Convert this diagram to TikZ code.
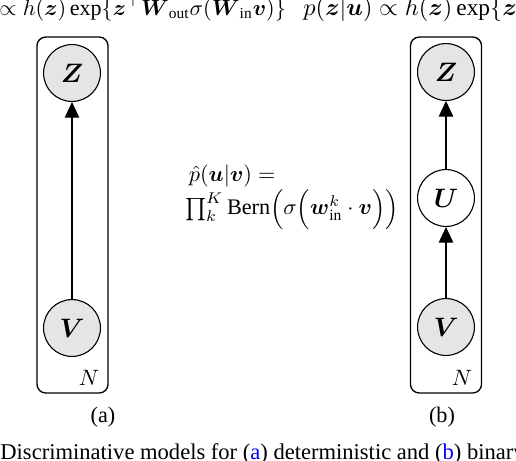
\documentclass[tikz,border=0pt]{standalone}
\usepackage{amsmath,amssymb}
\usepackage{fontspec}
\setmainfont{Liberation Serif}
\usetikzlibrary{arrows.meta, positioning}

\begin{document}
\begin{tikzpicture}[x=0.45pt, y=-0.45pt, line join=round, line cap=round]
   % Styles
   \tikzset{
    obs/.style={circle, draw, fill=gray!20, minimum size=25.6pt, inner sep=0pt, line width=0.5pt, font=\fontsize{11.5}{13}\selectfont},
    latent/.style={circle, draw, fill=white, minimum size=25.6pt, inner sep=0pt, line width=0.5pt, font=\fontsize{11.5}{13}\selectfont},
    plate/.style={draw, rounded corners=4pt, line width=0.6pt, minimum width=32pt, minimum height=160.2pt},
    edge/.style={-{Triangle[length=7pt, width=6.5pt]}, line width=0.5pt},
    eqtop/.style={inner sep=0pt, font=\fontsize{10.5}{12}\selectfont}
   }
  \useasboundingbox (0,0) rectangle (516,460);
  \clip (0,0) rectangle (516,460);
  % Equations cut at the top
  \node[eqtop, anchor=base west, font=\fontsize{9.9}{12}\selectfont] (eqa) at (-1,15)
    {$\propto h(\boldsymbol z)\exp\{\boldsymbol z^\top \boldsymbol W_{\mathrm{out}}\sigma(\boldsymbol W_{\mathrm{in}}\boldsymbol v)\}$};
  \node[eqtop, anchor=base west] (eqb) at (303,15)
    {$p(\boldsymbol z|\boldsymbol u)\propto h(\boldsymbol z)\exp\{\boldsymbol z^\top \boldsymbol W_{\mathrm{out}}\boldsymbol u\}$};
  % Plates
  \node[plate] (platea) at (72.5,215) {};
  \node[plate] (plateb) at (446,215) {};
  \node[anchor=base] (na) at (89,385) {$N$};
  \node[anchor=base] (nb) at (462,385) {$N$};
  % Nodes (a)
  \node[obs] (za) at (72,73) {$\boldsymbol{Z}$};
  \node[obs] (va) at (72,328) {$\boldsymbol{V}$};
  % Nodes (b)
  \node[obs] (zb) at (446,72) {$\boldsymbol{Z}$};
  \node[latent] (ub) at (446,198) {$\boldsymbol{U}$};
  \node[obs] (vb) at (446,327) {$\boldsymbol{V}$};
  \node[anchor=east, align=left, inner sep=0pt] (lik) at (399,197)
    {\,$\hat{p}(\boldsymbol u|\boldsymbol v) =$\\
     $\prod_k^K \mathrm{Bern}\Bigl(\sigma\Bigl(\boldsymbol w_{\mathrm{in}}^k\cdot\boldsymbol v\Bigr)\Bigr)$};
  % Edges
  \draw[edge] (va) -- (za);
  \draw[edge] (vb) -- (ub);
  \draw[edge] (ub) -- (zb);
  % Captions
  \node (capa) at (103,417) {(a)};
  \node (capb) at (442,417) {(b)};
  \node[anchor=base west, inner sep=0pt, font=\fontsize{10.15}{12}\selectfont] (cap) at (0,459)
    {Discriminative models for (\textcolor{blue}{a}) deterministic and (\textcolor{blue}{b}) binary};
\end{tikzpicture}
\end{document}
